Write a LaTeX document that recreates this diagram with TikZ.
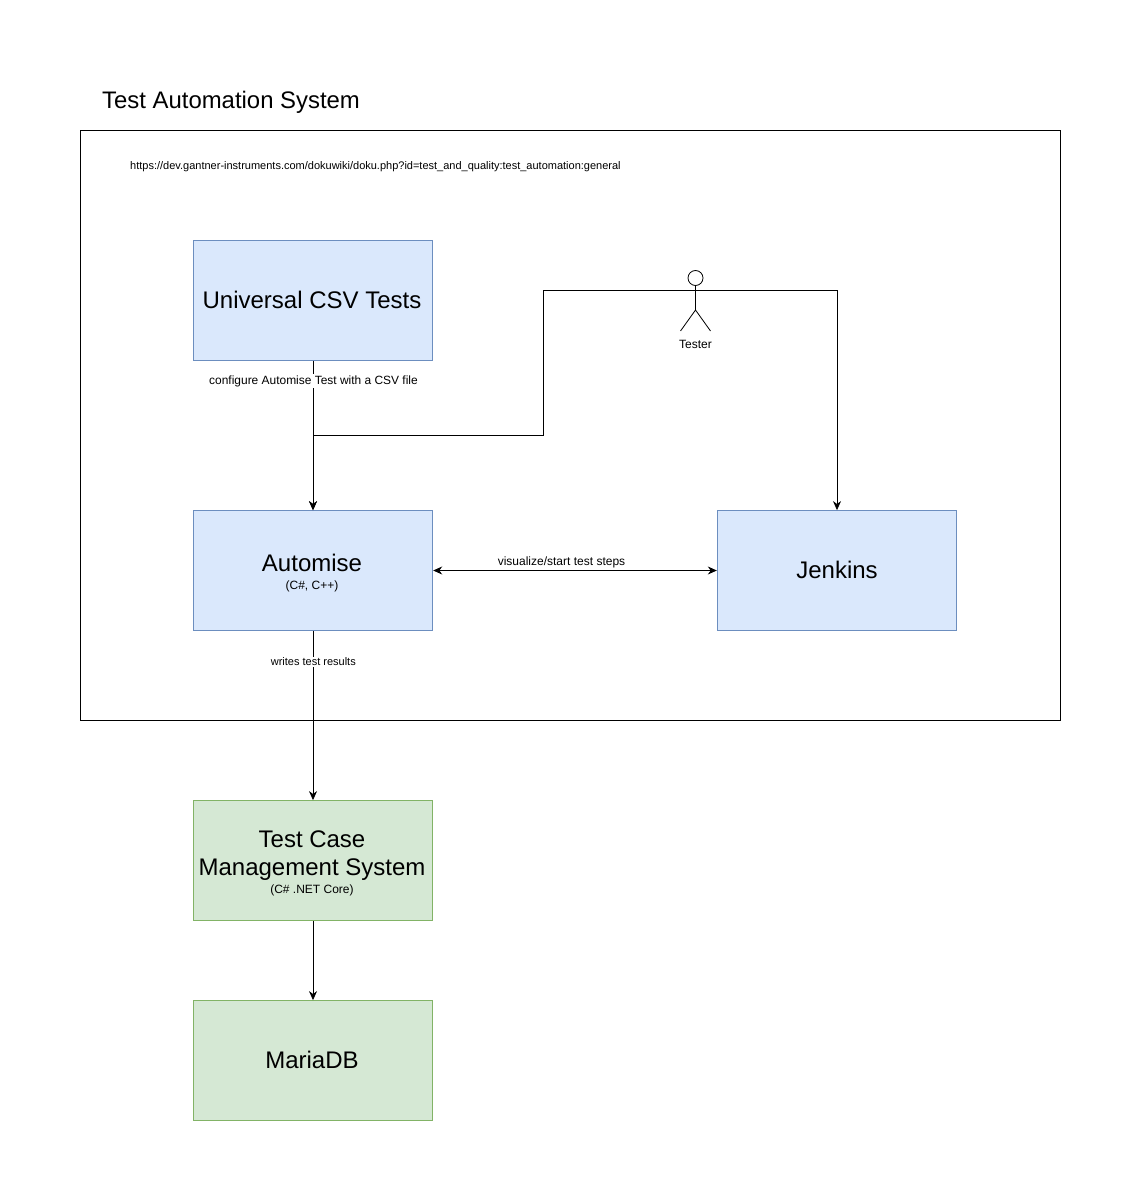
\documentclass[tikz,border=0pt]{standalone}
\usepackage{fontspec}
\setmainfont{Liberation Sans}
\usetikzlibrary{arrows.meta}
\definecolor{bluefill}{HTML}{DAE8FC}
\definecolor{bluedraw}{HTML}{6C8EBF}
\definecolor{greenfill}{HTML}{D5E8D4}
\definecolor{greendraw}{HTML}{82B366}
\tikzset{
  x=1pt,y=-1pt,
  every node/.style={font=\fontsize{9}{11}\selectfont,inner sep=0pt},
  bluebox/.style={draw=bluedraw,fill=bluefill,line width=0.8pt,minimum width=239.6pt,minimum height=120pt,align=center},
  greenbox/.style={draw=greendraw,fill=greenfill,line width=0.8pt,minimum width=239.6pt,minimum height=120pt,align=center},
  arrowline/.style={draw=black,line width=0.8pt,-{Stealth[length=9pt,width=8pt]}},
  dblline/.style={draw=black,line width=0.8pt,{Stealth[length=9pt,width=8pt]}-{Stealth[length=9pt,width=8pt]}},
  lbl/.style={fill=white,inner xsep=0.5pt,inner ysep=1pt},
  big/.style={font=\fontsize{24}{28}\selectfont},
  small/.style={font=\fontsize{12}{13}\selectfont},
}
\begin{document}
\begin{tikzpicture}
\useasboundingbox (0,0) rectangle (1141,1201);
\fill[white] (0,0) rectangle (1141,1201);
\node[draw=black,line width=0.8pt,minimum width=980pt,minimum height=590pt] (frame) at (570.5,425.5) {};
\node[anchor=west,font=\fontsize{23.9}{28}\selectfont] (title) at (102,102.5) {Test Automation System};
\node[anchor=west,font=\fontsize{11}{13}\selectfont] (url) at (130,166.5) {https://dev.gantner-instruments.com/dokuwiki/doku.php?id=test\_and\_quality:test\_automation:general};
\node[bluebox] (csv) at (313,300.5) {};
\node[big] (csvt) at (312,299.5) {Universal CSV Tests};
\node[bluebox] (auto) at (313,570.5) {};
\node[big] (autot) at (312,562.5) {Automise};
\node[small] (autos) at (312,586) {(C\#, C++)};
\node[bluebox] (jenk) at (837,570.5) {};
\node[big] (jenkt) at (837,569.5) {Jenkins};
\node[greenbox] (tcm) at (313,860.5) {};
\node[big,align=center] (tcmt) at (312,855.5) {Test Case\\Management System};
\node[small] (tcms) at (312,890) {(C\# .NET Core)};
\node[greenbox] (db) at (313,1060.5) {};
\node[big] (dbt) at (312,1059.5) {MariaDB};
% actor
\coordinate (head) at (695.5,278);
\draw[line width=0.8pt] (head) circle (7.5);
\draw[line width=0.8pt] (695.5,285.5) -- (695.5,310) (680.5,331) -- (695.5,310) -- (710.5,331);
\coordinate (armL) at (680.5,290.7);
\coordinate (armR) at (710.5,290.7);
\node[small] (tester) at (695.5,344) {Tester};
% connectors
\draw[arrowline] (csv.south) -- (auto.north);
\draw[arrowline] (armL) -- (543.5,290.7) -- (543.5,435.5) -- (313,435.5) -- (auto.north);
\draw[arrowline] (armR) -- (837,290.7) -- (jenk.north);
\draw[dblline] (auto.east) -- (jenk.west);
\draw[arrowline] (auto.south) -- (tcm.north);
\draw[arrowline] (tcm.south) -- (db.north);
\draw[line width=0.8pt] (armL) -- (armR);
\node[lbl,font=\fontsize{11.95}{13}\selectfont] (l1) at (313.5,381) {configure Automise Test with a CSV file};
\node[font=\fontsize{12}{13}\selectfont] (l2) at (561.5,562) {visualize/start test steps};
\node[lbl,font=\fontsize{11}{13}\selectfont] (l3) at (313.3,662) {writes test results};
\end{tikzpicture}
\end{document}
